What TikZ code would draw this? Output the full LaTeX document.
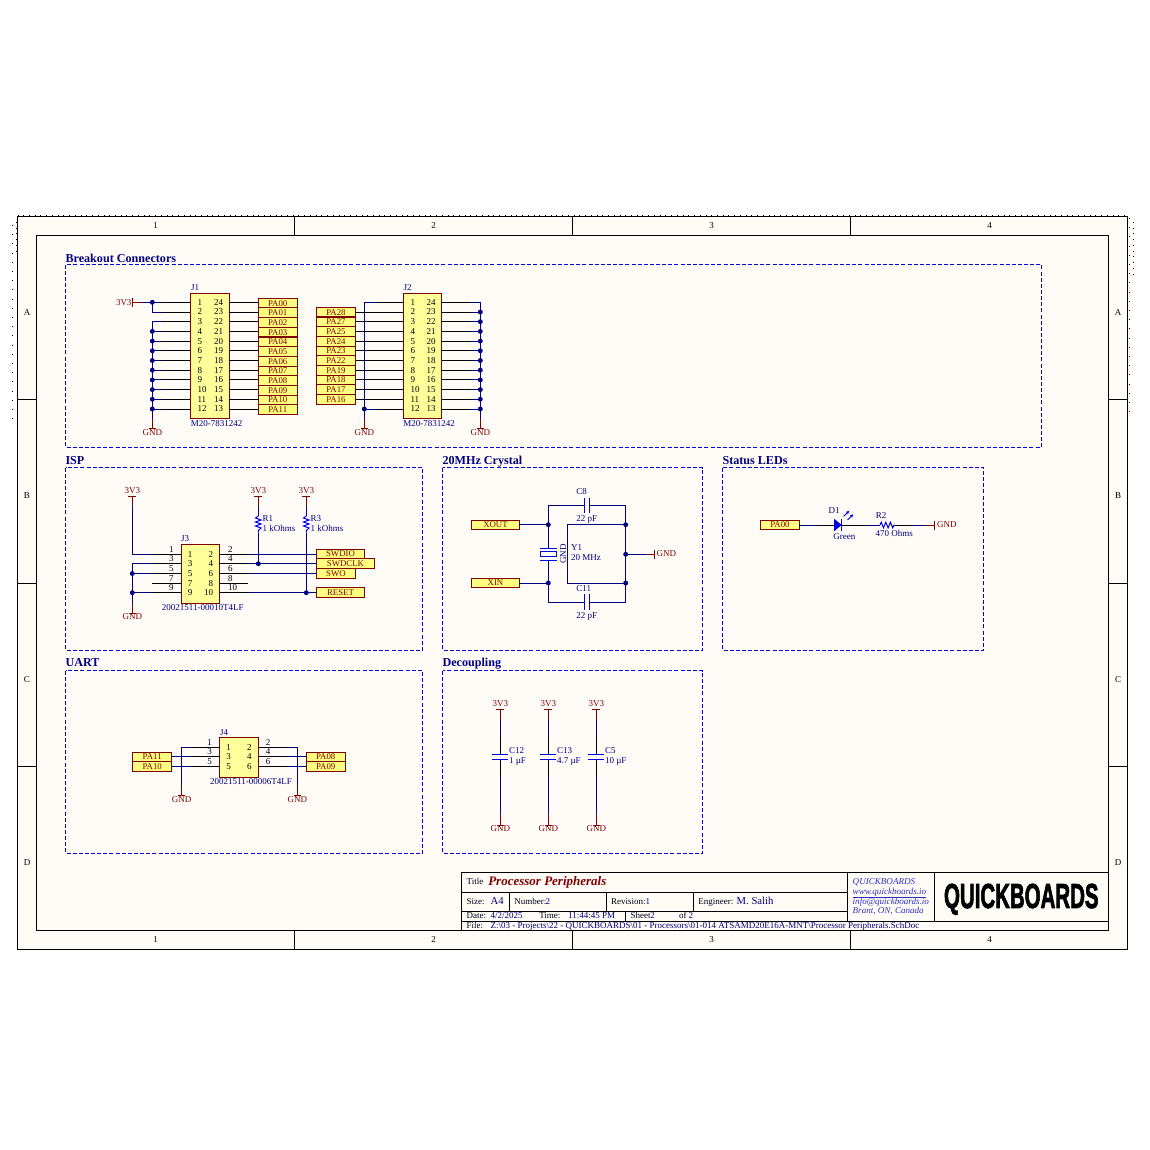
\documentclass[tikz,border=0pt]{standalone}
\usepackage{fontspec}
\setmainfont{Liberation Serif}
\newfontfamily\logofont[BoldFeatures={FakeBold=2.6}]{Liberation Sans}
\usetikzlibrary{arrows.meta,calc}
\definecolor{sheet}{HTML}{FFFCF8}
\definecolor{wirec}{HTML}{000080}
\definecolor{redc}{HTML}{800000}
\definecolor{bodyc}{HTML}{FFFF99}
\definecolor{portc}{HTML}{FFFF80}
\definecolor{boxc}{HTML}{0000E6}
\definecolor{partc}{HTML}{0000E6}
\definecolor{linkc}{HTML}{3030C0}
\tikzset{
 lbl/.style={inner sep=0,outer sep=0,text height=4.4pt,text depth=0pt,font=\fontsize{6.75}{7}\selectfont},
 numl/.style={lbl,text=black!85!wirec},
 compl/.style={lbl,text=wirec},
 netl/.style={lbl,text=redc},
 headl/.style={lbl,anchor=west,text=wirec,font=\fontsize{9.1}{10}\selectfont\bfseries,text height=6pt},
 frm/.style={black,line width=0.75pt},
 wr/.style={wirec,line width=0.75pt},
 pn/.style={black,line width=0.75pt},
 stub/.style={redc,line width=0.75pt},
 part/.style={partc,line width=0.75pt},
 zone/.style={boxc,line width=0.6pt,dash pattern=on 3pt off 1.6pt},
 dotj/.style={circle,fill=wirec,draw=none,minimum size=3.7pt,inner sep=0,outer sep=0},
 bodyb/.style={draw=redc,fill=bodyc,line width=0.75pt},
 portbox/.style={draw=redc,fill=portc,line width=0.75pt,minimum width=#1*0.75pt,minimum height=7.25pt,inner sep=0,outer sep=0,text=redc,text height=4.4pt,text depth=0pt,font=\fontsize{6.6}{7}\selectfont},
 tb/.style={black,line width=0.75pt},
 tbl/.style={lbl,anchor=west,text=black!85!wirec},
 tbv/.style={lbl,anchor=west,text=wirec},
 lnk/.style={lbl,anchor=west,text=linkc,font=\fontsize{6.8}{7}\selectfont\itshape},
 dotline/.style={black,line width=0.7pt,dash pattern=on 0.7pt off 3.6pt},
 dotside/.style={black,line width=0.7pt,dash pattern=on 0.7pt off 6.2pt},
}
% power symbol on top of a vertical wire: name, x, y of the label
\newcommand\vccsym[3]{%
 \node[netl] (#1t) at (#2,#3) {3V3};
 \coordinate (#1b) at (#2,#3+5.6);
 \coordinate (#1) at (#2,#3+15);
 \draw[stub] (#1b) -- (#1);
 \draw[stub] (#2-4,#3+5.6) -- (#2+4,#3+5.6);}
% ground symbol below a vertical wire: name, x, y of the label
\newcommand\gndsym[3]{%
 \coordinate (#1b) at (#2,#3-3.6);
 \coordinate (#1) at (#2,#3-14.4);
 \draw[stub] (#1b) -- (#1);
 \draw[stub] (#2-3.5,#3-3.6) -- (#2+3.5,#3-3.6);
 \node[netl] (#1t) at (#2,#3) {GND};}
\begin{document}
\begin{tikzpicture}[x=0.75pt,y=-0.75pt]
\useasboundingbox (0,0) rectangle (1150,1150);
\fill[white] (0,0) rectangle (1150,1150);
\fill[sheet] (17.5,216) rectangle (1127.5,949.5);
% ---------- sheet frame ----------
\draw[dotline] (17.5,215.4) -- (1127.5,215.4);
\draw[dotside] (12.3,225) -- (12.3,420);
\draw[dotline] (16,222) -- (16,252);
\draw[dotside] (1129.5,218) -- (1129.5,420);
\draw[dotline] (1133.5,222) -- (1133.5,275);
\draw[frm] (17.5,216) rectangle (1127.5,949.5);
\draw[frm] (36.5,235.5) rectangle (1108.5,930.5);
\foreach \x in {294.5,572.5,850.5}{
 \draw[frm] (\x,216) -- (\x,235.5);
 \draw[frm] (\x,930.5) -- (\x,949.5);}
\foreach \y in {399.5,583,766.5}{
 \draw[frm] (17.5,\y) -- (36.5,\y);
 \draw[frm] (1108.5,\y) -- (1127.5,\y);}
\foreach \t/\x in {1/155.5,2/433.5,3/711.5,4/989.5}{
 \node[lbl] at (\x,226) {\t};
 \node[lbl] at (\x,940) {\t};}
\foreach \t/\y in {A/313,B/496,C/679.5,D/863}{
 \node[lbl] at (27,\y) {\t};
 \node[lbl] at (1118,\y) {\t};}
% ---------- zones ----------
\draw[zone] (65.5,264.5) rectangle (1041.5,447.5);
\draw[zone] (65.5,467.5) rectangle (422.5,650.5);
\draw[zone] (442.5,467.5) rectangle (702.5,650.5);
\draw[zone] (722.5,467.5) rectangle (983.5,650.5);
\draw[zone] (65.5,670.5) rectangle (422.5,853.5);
\draw[zone] (442.5,670.5) rectangle (702.5,853.5);
\node[headl] (hbrk) at (65.5,258) {Breakout Connectors};
\node[headl] (hisp) at (65.5,460.5) {ISP};
\node[headl] (hxtl) at (442.5,460.5) {20MHz Crystal};
\node[headl] (hled) at (722.5,460.5) {Status LEDs};
\node[headl] (huart) at (65.5,662.5) {UART};
\node[headl] (hdec) at (442.5,662.5) {Decoupling};
% ---------- J1 ----------
\foreach \n [count=\i from 0] in {PA00,PA01,PA02,PA03,PA04,PA05,PA06,PA07,PA08,PA09,PA10,PA11}{
 \pgfmathsetmacro\yy{303.15+9.67*\i}
 \node[portbox=39.5] (\n) at (277.75,\yy) {\n};}
\foreach \n [count=\i from 0] in {PA28,PA27,PA25,PA24,PA23,PA22,PA19,PA18,PA17,PA16}{
 \pgfmathsetmacro\yy{312.15+9.7*\i}
 \node[portbox=39.5] (\n) at (336,\yy) {\n};}
\draw[bodyb] (190,293.3) rectangle (229.3,418.3);
\draw[bodyb] (403.3,293.3) rectangle (441.7,418.3);
\node[compl] (j1n) at (195,287.5) {J1};
\node[compl] (j1v) at (216.5,423.5) {M20-7831242};
\node[compl] (j2n) at (407.5,287.5) {J2};
\node[compl] (j2v) at (429,423.5) {M20-7831242};
\foreach \i in {1,...,12}{
 \pgfmathsetmacro\yy{302.3+9.7*(\i-1)}
 \pgfmathtruncatemacro\o{25-\i}
 \coordinate (Aa\i) at (152.3,\yy);
 \coordinate (Ab\i) at (161.5,\yy);
 \coordinate (Ac\i) at (190,\yy);
 \coordinate (Ad\i) at (229.3,\yy);
 \coordinate (Ba\i) at (364.3,\yy);
 \coordinate (Bb\i) at (375,\yy);
 \coordinate (Bc\i) at (403.3,\yy);
 \coordinate (Bd\i) at (441.7,\yy);
 \coordinate (Be\i) at (471,\yy);
 \coordinate (Bf\i) at (480.3,\yy);
 \node[numl,anchor=west] at (197.5,\yy) {\i};
 \node[numl,anchor=west] at (214,\yy) {\o};
 \node[numl,anchor=west] at (410.5,\yy) {\i};
 \node[numl,anchor=west] at (426.5,\yy) {\o};
 \draw[pn] (Ab\i) -- (Ac\i);
 \draw[pn] (Bb\i) -- (Bc\i);
 \draw[pn] (Bd\i) -- (Be\i);
 \draw[wr] (Be\i) -- (Bf\i);}
\foreach \n [count=\i from 1] in {PA00,PA01,PA02,PA03,PA04,PA05,PA06,PA07,PA08,PA09,PA10,PA11}{
 \draw[pn] (Ad\i) -- (Ad\i -| \n.west);}
\foreach \n [count=\i from 2] in {PA28,PA27,PA25,PA24,PA23,PA22,PA19,PA18,PA17,PA16}{
 \draw[pn] (Bb\i) -- (Bb\i -| \n.east);}
\foreach \i in {3,...,12}{\draw[wr] (Aa\i) -- (Ab\i);}
\draw[wr] (Aa1) -- (Ab1) (Aa2) -- (Ab2);
\draw[wr] (Ba12) -- (Bb12) (Ba1) -- (Bb1);
% 3V3 of J1
\node[netl,anchor=east] (j1vcc) at (131.5,302.3) {3V3};
\coordinate (j1vb) at (132.8,302.3);
\coordinate (j1vc) at (141.5,302.3);
\draw[stub] (j1vb) -- (j1vc);
\draw[stub] (132.8,298) -- (132.8,306.6);
\draw[wr] (j1vc) -- (Aa1) -- (Aa2);
\node[dotj] at (Aa1) {};
% GNDs of J1 and J2
\gndsym{gA}{152.3}{432.5}
\gndsym{gB}{364.3}{432.5}
\gndsym{gC}{480.3}{432.5}
\draw[wr] (Aa3) -- (gA);
\draw[wr] (Ba1) -- (gB);
\draw[wr] (Bf1) -- (gC);
\foreach \i in {4,...,12}{\node[dotj] at (Aa\i) {};}
\foreach \i in {2,...,12}{\node[dotj] at (Bf\i) {};}
\node[dotj] at (Ba12) {};
% ---------- J3 ----------
\node[compl] (j3n) at (185,539) {J3};
\node[compl] (j3v) at (202.7,607.5) {20021511-00010T4LF};
\draw[bodyb] (181.3,544.3) rectangle (219.3,603.3);
\foreach \i/\o/\y in {1/2/554.3,3/4/563.7,5/6/573.5,7/8/583.2,9/10/592.7}{
 \coordinate (Ca\i) at (132.3,\y);
 \coordinate (Cb\i) at (152.3,\y);
 \coordinate (Cc\i) at (181.3,\y);
 \coordinate (Cd\o) at (219.3,\y);
 \coordinate (Ce\o) at (248.3,\y);
 \draw[pn] (Cb\i) -- (Cc\i);
 \draw[pn] (Cd\o) -- (Ce\o);
 \node[numl,anchor=west] at (187.8,\y) {\i};
 \node[numl,anchor=east] at (213,\y) {\o};
 \node[numl,anchor=west] at (169,\y-5) {\i};
 \node[numl,anchor=west] at (228,\y-5) {\o};}
\node[portbox=48.4] (swdio) at (340.5,554) {SWDIO};
\node[portbox=58.4] (swdclk) at (345.5,563.7) {SWDCLK};
\node[portbox=39.4] (swo) at (336,573.4) {SWO};
\node[portbox=48.4] (reset) at (340.5,592.5) {RESET};
\draw[wr] (Ce2) -- (Ce2 -| swdio.west);
\draw[wr] (Ce4) -- (Ce4 -| swdclk.west);
\draw[wr] (Ce6) -- (Ce6 -| swo.west);
\draw[wr] (Ce10) -- (Ce10 -| reset.west);
\vccsym{vA}{132.3}{491}
\vccsym{vB}{258.3}{491}
\vccsym{vC}{306.3}{491}
\gndsym{gD}{132.3}{617}
\draw[wr] (vA) -- (Ca1) -- (Cb1);
\draw[wr] (Cb3) -- (Ca3) -- (gD);
\draw[wr] (Cb5) -- (Ca5);
\draw[wr] (Cb9) -- (Ca9);
\node[dotj] at (Ca5) {};
\node[dotj] at (Ca9) {};
% R1, R3
\foreach \n/\x in {1/258.3,3/306.3}{
 \coordinate (R\n a) at (\x,516);
 \coordinate (R\n b) at (\x,532.5);
 \draw[part] (R\n a) -- ++(-2.8,2) -- ++(5.6,2) -- ++(-5.6,2) -- ++(5.6,2) -- ++(-5.6,2) -- ++(5.6,2) -- ++(-2.8,2.5) -- (R\n b);
 \node[compl,anchor=west] at (\x+4.3,518.3) {R\n};
 \node[compl,anchor=west] at (\x+4.3,528.7) {1 kOhms};}
\coordinate (jR1) at (258.3,563.7);
\coordinate (jR3) at (306.3,592.7);
\draw[wr] (vB) -- (R1a) (R1b) -- (jR1);
\draw[wr] (vC) -- (R3a) (R3b) -- (jR3);
\node[dotj] at (jR1) {};
\node[dotj] at (jR3) {};
% ---------- crystal ----------
\node[portbox=47.6] (xout) at (495.5,525) {XOUT};
\node[portbox=47.6] (xin) at (495.5,583) {XIN};
\coordinate (xa) at (548.3,524.7);
\coordinate (xb) at (548.3,583);
\coordinate (xt) at (548.3,505.3);
\coordinate (xu) at (548.3,602.3);
\coordinate (xc) at (625.7,524.7);
\coordinate (xd) at (625.7,583);
\coordinate (xe) at (625.7,554.3);
\coordinate (xf) at (625.7,505.3);
\coordinate (xg) at (625.7,602.3);
\coordinate (xi) at (567.3,524.7);
\coordinate (xj) at (567.3,583);
\coordinate (xk) at (654.3,554.3);
\coordinate (yt) at (548.3,548);
\coordinate (yb) at (548.3,560);
\draw[wr] (xout.east |- xa) -- (xa) -- (yt);
\draw[wr] (xin.east |- xb) -- (xb) -- (yb);
\draw[wr] (xa) -- (xt);
\draw[wr] (xb) -- (xu);
\draw[part] (540.3,548) -- (556.7,548);
\draw[part] (540.3,560) -- (556.7,560);
\draw[part] (540.3,551.3) rectangle (556.7,556.7);
\coordinate (c8a) at (584.3,505.3);
\coordinate (c8b) at (589,505.3);
\coordinate (c11a) at (584.3,602.3);
\coordinate (c11b) at (589,602.3);
\draw[wr] (xt) -- (c8a) (c8b) -- (xf) -- (xg) -- (c11b) (c11a) -- (xu);
\draw[part] (c8a) +(0,-7) -- +(0,8) (c8b) +(0,-7) -- +(0,8);
\draw[part] (c11a) +(0,-8) -- +(0,8) (c11b) +(0,-8) -- +(0,8);
\draw[wr] (xc) -- (xi) -- (xj) -- (xd);
\draw[wr] (xe) -- (xk);
\draw[stub] (647,554.3) -- (xk);
\draw[stub] (654.3,549.5) -- (654.3,559);
\node[netl,anchor=west] (gxt) at (656.7,553.8) {GND};
\foreach \p in {xa,xb,xc,xd,xe}{\node[dotj] at (\p) {};}
\node[compl,rotate=90] (xgnd) at (563.3,554) {GND};
\node[compl] (c8n) at (581.7,491.7) {C8};
\node[compl] (c8v) at (586.7,518.5) {22 pF};
\node[compl] (c11n) at (583.7,588.7) {C11};
\node[compl] (c11v) at (586.7,616) {22 pF};
\node[compl,anchor=west] (y1n) at (571,547.7) {Y1};
\node[compl,anchor=west] (y1v) at (571,558) {20 MHz};
% ---------- LED ----------
\node[portbox=38.6] (ledp) at (780,525) {PA00};
\coordinate (la) at (819,525);
\coordinate (lb) at (834,525);
\coordinate (lc) at (841.7,525);
\coordinate (ld) at (866,525);
\coordinate (le) at (880,525);
\coordinate (lf) at (894,525);
\coordinate (lg) at (910,525);
\coordinate (lh) at (925,525);
\coordinate (li) at (934.3,525);
\draw[wr] (ledp.east) -- (la);
\draw[pn] (la) -- (lb);
\draw[pn] (lc) -- (ld);
\draw[wr] (ld) -- (le);
\draw[pn] (lf) -- (lg);
\draw[wr] (lg) -- (lh);
\draw[stub] (lh) -- (li);
\draw[stub] (934.3,520.5) -- (934.3,529.5);
\fill[partc] (834,518.7) -- (841.7,525) -- (834,531.3) -- cycle;
\draw[part] (841.7,518.7) -- (841.7,531.3);
\draw[part,-{Latex[length=2.6pt,width=2.4pt]}] (843.5,516.5) -- (849.5,510.5);
\draw[part,-{Latex[length=2.6pt,width=2.4pt]}] (847.5,520) -- (853.5,514);
\draw[part] (le) -- ++(1.2,-2.8) -- ++(2.3,5.6) -- ++(2.3,-5.6) -- ++(2.3,5.6) -- ++(2.3,-5.6) -- ++(2.3,5.6) -- (lf);
\node[compl] (d1n) at (834,510.3) {D1};
\node[compl] (d1v) at (844.3,536.7) {Green};
\node[compl] (r2n) at (881,515.7) {R2};
\node[compl] (r2v) at (894.3,533.7) {470 Ohms};
\node[netl,anchor=west] (lgnd) at (937,524.5) {GND};
% ---------- J4 ----------
\node[compl] (j4n) at (224,732.7) {J4};
\node[compl] (j4v) at (251,781.5) {20021511-00006T4LF};
\draw[bodyb] (219.7,737.3) rectangle (258.3,777.7);
\foreach \i/\o/\y in {1/2/747.3,3/4/756.7,5/6/766.3}{
 \coordinate (Da\i) at (191,\y);
 \coordinate (Db\i) at (219.7,\y);
 \coordinate (Dc\o) at (258.3,\y);
 \coordinate (Dd\o) at (287,\y);
 \draw[pn] (Da\i) -- (Db\i);
 \draw[pn] (Dc\o) -- (Dd\o);
 \node[numl] at (228.7,\y) {\i};
 \node[numl] at (249.3,\y) {\o};
 \node[numl] at (209.7,\y-5) {\i};
 \node[numl] at (268,\y-5) {\o};}
\node[portbox=39] (u11) at (152.2,757) {PA11};
\node[portbox=39] (u10) at (152.2,766.5) {PA10};
\node[portbox=39.3] (u08) at (325.7,757) {PA08};
\node[portbox=39.3] (u09) at (325.7,766.5) {PA09};
\draw[wr] (u11.east |- Da3) -- (Da3);
\draw[wr] (u10.east |- Da5) -- (Da5);
\draw[wr] (Dd4) -- (Dd4 -| u08.west);
\draw[wr] (Dd6) -- (Dd6 -| u09.west);
\gndsym{gE}{181.7}{799.3}
\gndsym{gF}{297.3}{799.3}
\coordinate (Dx) at (181.7,747.3);
\coordinate (Dy) at (297.3,747.3);
\draw[wr] (Da1) -- (Dx) -- (gE);
\draw[wr] (Dd2) -- (Dy) -- (gF);
% ---------- decoupling ----------
\foreach \n/\x/\a/\b in {12/500.3/C12/1 µF,13/548.3/C13/4.7 µF,5/596.3/C5/10 µF}{
 \vccsym{dv\n}{\x}{703.5}
 \gndsym{dg\n}{\x}{828.7}
 \coordinate (dp\n) at (\x,754.3);
 \coordinate (dq\n) at (\x,759.3);
 \coordinate (dr\n) at (\x,737.7);
 \coordinate (ds\n) at (\x,776);
 \draw[wr] (dv\n) -- (dr\n);
 \draw[pn] (dr\n) -- (dp\n);
 \draw[pn] (dq\n) -- (ds\n);
 \draw[wr] (ds\n) -- (dg\n);
 \draw[part] (\x-8,754.3) -- (\x+8,754.3);
 \draw[part] (\x-8,759.3) -- (\x+8,759.3);
 \node[compl,anchor=west] at (\x+8.7,750.3) {\a};
 \node[compl,anchor=west] at (\x+8.7,761) {\b};}
% ---------- title block ----------
\draw[tb] (461.3,930.5) -- (461.3,872.3) -- (1108.5,872.3);
\draw[tb] (461.3,892.3) -- (847.7,892.3);
\draw[tb] (461.3,911.3) -- (847.7,911.3);
\draw[tb] (461.3,921) -- (1108.5,921);
\draw[tb] (847.7,872.3) -- (847.7,921);
\draw[tb] (934.5,872.3) -- (934.5,921);
\draw[tb] (509,892.3) -- (509,911.3);
\draw[tb] (606.7,892.3) -- (606.7,911.3);
\draw[tb] (693.3,892.3) -- (693.3,911.3);
\draw[tb] (625.3,911.3) -- (625.3,921);
\node[tbl] (t1) at (466.7,881.7) {Title};
\node[lbl,anchor=west,text=redc,font=\fontsize{9.75}{11}\selectfont\bfseries\itshape] (t2) at (488.3,882.3) {Processor Peripherals};
\node[tbl] (t3) at (466.7,901.3) {Size:};
\node[tbv,font=\fontsize{8}{9}\selectfont] (t4) at (490.7,901.3) {A4};
\node[tbl] (t5) at (514.3,901.3) {Number:};
\node[tbv] (t6) at (545.5,901.3) {2};
\node[tbl] (t7) at (611,901.3) {Revision:};
\node[tbv] (t8) at (645.5,901.3) {1};
\node[tbl] (t9) at (698.3,901.3) {Engineer:};
\node[tbv,font=\fontsize{8}{9}\selectfont] (t10) at (736.7,901.3) {M. Salih};
\node[tbl] (t11) at (466.7,915.7) {Date:};
\node[tbv] (t12) at (490.7,915.7) {4/2/2025};
\node[tbl] (t13) at (539.3,915.7) {Time:};
\node[tbv] (t14) at (568.3,915.7) {11:44:45 PM};
\node[tbl] (t15) at (630.7,915.7) {Sheet};
\node[tbv] (t16) at (650.3,915.7) {2};
\node[tbl] (t17) at (679,915.7) {of};
\node[tbv] (t18) at (688.5,915.7) {2};
\node[tbl] (t19) at (466.7,925.7) {File:};
\node[tbv] (t20) at (490.7,925.7) {Z:\textbackslash 03 - Projects\textbackslash 22 - QUICKBOARDS\textbackslash 01 - Processors\textbackslash 01-014 ATSAMD20E16A-MNT\textbackslash Processor Peripherals.SchDoc};
\node[lnk] (q1) at (852.7,881.7) {QUICKBOARDS};
\node[lnk] (q2) at (852.7,891.7) {www.quickboards.io};
\node[lnk] (q3) at (852.7,901.7) {info@quickboards.io};
\node[lnk] (q4) at (852.7,910.7) {Brant, ON, Canada};
\draw[linkc,line width=0.5pt] ($(q2.south west)+(0,2.5)$) -- ($(q2.south east)+(0,2.5)$);
\node[lbl,text=black,font=\logofont\fontsize{26}{28}\selectfont\bfseries,text height=18.7pt,xscale=0.59] (logo) at (1021.3,895.5) {QUICKBOARDS};
\end{tikzpicture}
\end{document}
